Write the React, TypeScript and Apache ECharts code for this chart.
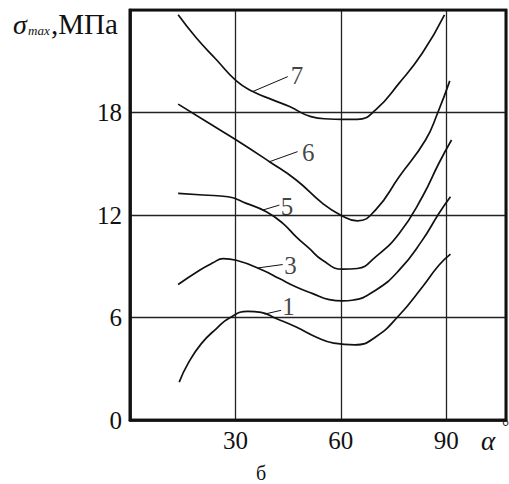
import React, { useEffect, useRef } from "react";
import * as echarts from "echarts";

// Curve data (alpha in degrees, sigma_max in MPa)
const curve1X = [14.0, 16.5, 20.3, 24.6, 28.4, 33.5, 37.3, 41.6, 47.3, 52.9, 58.0, 64.0, 69.9, 76.6, 83.2, 87.9, 91.2];
const curve1Y = [2.22, 3.3, 4.47, 5.35, 5.99, 6.36, 6.3, 5.94, 5.44, 4.86, 4.5, 4.4, 4.86, 6.13, 7.79, 9.06, 9.71];

const curve3X = [13.7, 19.8, 23.6, 26.5, 30.25, 37.8, 42.5, 47.3, 52.0, 56.7, 60.5, 63.2, 69.9, 76.6, 83.2, 87.9, 91.2];
const curve3Y = [7.93, 8.77, 9.2, 9.45, 9.35, 8.77, 8.28, 7.79, 7.4, 7.05, 6.97, 7.01, 7.6, 8.77, 10.53, 12.09, 13.07];

const curve5X = [13.7, 20.8, 27.9, 33.1, 38.8, 43.5, 47.3, 51.0, 54.8, 60.5, 64.7, 69.9, 76.6, 83.2, 87.9, 91.5];
const curve5Y = [13.27, 13.17, 13.07, 12.68, 12.19, 11.51, 10.72, 10.04, 9.35, 8.83, 8.87, 9.55, 10.92, 13.07, 15.03, 16.39];

const curve6X = [13.7, 21.7, 30.25, 39.7, 47.3, 54.8, 60.0, 64.7, 69.9, 76.6, 84.1, 87.6, 91.0];
const curve6Y = [18.49, 17.47, 16.39, 15.12, 14.05, 12.68, 11.99, 11.66, 12.3, 14.24, 16.39, 18.0, 19.85];

const curve7X = [13.7, 18.9, 24.6, 30.25, 34.96, 40.6, 45.4, 51.5, 56.7, 60.0, 64.7, 69.9, 76.6, 83.2, 89.5];
const curve7Y = [23.72, 22.36, 21.09, 19.85, 19.23, 18.74, 18.35, 17.76, 17.62, 17.6, 17.6, 18.15, 19.72, 21.48, 23.72];

// Curve labels and leader lines (start on curve -> end near label)
const curveNames = ["1", "3", "5", "6", "7"];
const leaderStart = [[38.3, 6.2], [36.35, 8.9], [37.8, 12.29], [39.7, 15.12], [34.96, 19.23]];
const leaderEnd = [[43.0, 6.42], [43.45, 9.1], [42.5, 12.58], [47.7, 15.71], [44.9, 20.1]];
const labelPos = [[45.1, 6.66], [45.65, 9.06], [44.65, 12.52], [50.75, 15.66], [47.5, 20.15]];

// Axis settings
const xMin = 0;
const xMax = 107;
const xStep = 30;
const yMin = 0;
const yMax = 24;
const yStep = 6;
const xTickLabels = [30, 60, 90];
const yTickLabels = [0, 6, 12, 18];

const zip = (xs: number[], ys: number[]) => xs.map((x, i) => [x, ys[i]]);

const FONT = "Liberation Serif";
const W = 509;
const H = 484;
const G_LEFT = 130;
const G_RIGHT = 3;
const G_TOP = 10;
const G_BOTTOM = 64;

export default function App() {
  const ref = useRef<HTMLDivElement>(null);

  useEffect(() => {
    if (!ref.current) return;
    const chart = echarts.init(ref.current, null, { renderer: "svg" });

    const curves = [
      zip(curve1X, curve1Y),
      zip(curve3X, curve3Y),
      zip(curve5X, curve5Y),
      zip(curve6X, curve6Y),
      zip(curve7X, curve7Y),
    ];

    const series: any[] = [];
    curves.forEach((d, i) => {
      series.push({
        type: "line",
        name: "curve" + curveNames[i],
        data: d,
        smooth: 0.5,
        symbol: "none",
        lineStyle: { color: "#111", width: 1.7 },
        z: 3,
      });
      series.push({
        type: "line",
        data: [leaderStart[i], leaderEnd[i]],
        symbol: "none",
        lineStyle: { color: "#111", width: 1 },
        z: 3,
      });
    });
    series.push({
      type: "scatter",
      data: labelPos.map((p, i) => ({ value: p, name: curveNames[i] })),
      symbolSize: 1,
      itemStyle: { color: "transparent" },
      label: {
        show: true,
        position: "inside",
        formatter: (p: any) => p.name,
        fontFamily: FONT,
        fontSize: 25,
        color: "#111",
      },
      z: 4,
    });

    chart.setOption({
      animation: false,
      grid: {
        left: G_LEFT,
        right: G_RIGHT,
        top: G_TOP,
        bottom: G_BOTTOM,
        show: true,
        borderColor: "#111",
        borderWidth: 2.6,
      },
      xAxis: {
        type: "value",
        min: xMin,
        max: xMax,
        interval: xStep,
        axisLine: { show: true, onZero: false, lineStyle: { color: "#111", width: 2.6 } },
        axisTick: { show: false },
        splitLine: { show: true, lineStyle: { color: "#222", width: 1.3 } },
        axisLabel: {
          margin: 8,
          fontFamily: FONT,
          fontSize: 25,
          color: "#111",
          formatter: (v: number) => (xTickLabels.indexOf(v) >= 0 ? String(v) : ""),
        },
      },
      yAxis: {
        type: "value",
        min: yMin,
        max: yMax,
        interval: yStep,
        axisLine: { show: true, onZero: false, lineStyle: { color: "#111", width: 2.6 } },
        axisTick: { show: false },
        splitLine: { show: true, lineStyle: { color: "#222", width: 1.3 } },
        axisLabel: {
          margin: 8,
          fontFamily: FONT,
          fontSize: 25,
          color: "#111",
          formatter: (v: number) => (yTickLabels.indexOf(v) >= 0 ? String(v) : ""),
        },
      },
      graphic: [
        {
          type: "rect",
          z: 10,
          silent: true,
          shape: { x: G_LEFT, y: G_TOP, width: W - G_LEFT - G_RIGHT, height: H - G_TOP - G_BOTTOM },
          style: { fill: "none", stroke: "#111", lineWidth: 2.6 },
        },
        { type: "text", left: 13, top: 10, style: { text: "σ", fontFamily: FONT, fontStyle: "italic", fontSize: 28, fill: "#111" } },
        { type: "text", left: 28, top: 24, style: { text: "max", fontFamily: FONT, fontStyle: "italic", fontSize: 13, fill: "#111" } },
        { type: "text", left: 51, top: 9, style: { text: ",МПа", fontFamily: FONT, fontSize: 29, fill: "#111" } },
        { type: "text", left: 481, top: 427, style: { text: "α", fontFamily: FONT, fontStyle: "italic", fontSize: 27, fill: "#111" } },
        { type: "text", left: 502, top: 418, style: { text: "°", fontFamily: FONT, fontSize: 18, fill: "#111" } },
        { type: "text", left: 256, top: 463, style: { text: "б", fontFamily: FONT, fontSize: 20, fill: "#111" } },
      ],
      series,
    });

    return () => chart.dispose();
  }, []);

  return (
    <div
      ref={ref}
      style={{ position: "fixed", left: 0, top: 0, width: W, height: H, background: "#fff" }}
    />
  );
}
